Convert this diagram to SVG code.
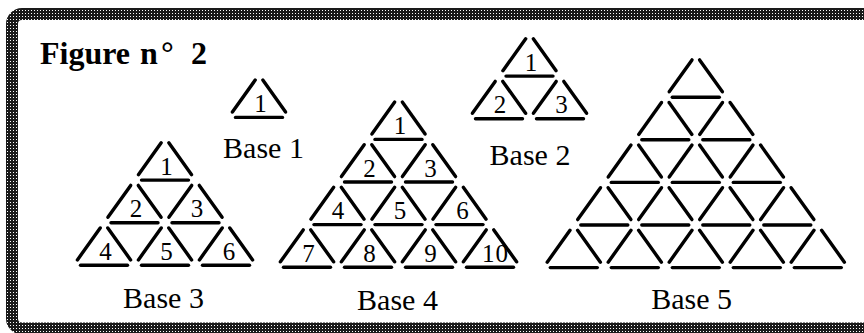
<svg xmlns="http://www.w3.org/2000/svg" xmlns:xlink="http://www.w3.org/1999/xlink" width="864" height="333" viewBox="0 0 864 333">
<style>
.stick{stroke:#000;stroke-width:3.4;stroke-linecap:round;fill:none}
.num{font-family:"Liberation Serif","Times New Roman",serif;font-size:25px;fill:#000;text-anchor:middle}
.lbl{font-family:"Liberation Serif","Times New Roman",serif;font-size:30px;fill:#000;text-anchor:middle}
.title{font-family:"Liberation Serif","Times New Roman",serif;font-size:32px;font-weight:bold;fill:#000}
</style>
<defs>
<pattern id="dots" width="3" height="3" patternUnits="userSpaceOnUse">
<rect width="3" height="3" fill="#1a1a1a"/>
<rect x="1" y="1" width="1" height="1" fill="#fff"/>
</pattern>
<g id="tri" class="stick">
<line x1="-3.8" y1="5.3" x2="-26.6" y2="37.2"/>
<line x1="3.8" y1="5.3" x2="26.6" y2="37.2"/>
<line x1="-23.5" y1="42.6" x2="23.5" y2="42.6"/>
</g>
</defs>
<rect x="0" y="0" width="864" height="333" fill="#fff"/>
<rect id="frame" x="12" y="14" width="870" height="314.5" rx="10" fill="#fff" stroke="url(#dots)" stroke-width="12"/>
<text id="title" class="title" y="63.5"><tspan x="40">Figure</tspan><tspan x="140">n</tspan><tspan x="161">°</tspan><tspan x="191">2</tspan></text>

<g id="base1">
<use href="#tri" x="259" y="74.8"/>
<text class="num" x="260.5" y="112">1</text>
<text class="lbl" x="263.5" y="158">Base 1</text>
</g>

<g id="base2">
<use href="#tri" x="529.5" y="33.5"/>
<use href="#tri" x="499" y="76.1"/>
<use href="#tri" x="560" y="76.1"/>
<text class="num" x="531" y="70.8">1</text>
<text class="num" x="500" y="113.4">2</text>
<text class="num" x="561.5" y="113.4">3</text>
<text class="lbl" x="530" y="165">Base 2</text>
</g>

<g id="base3">
<use href="#tri" x="165" y="137.5"/>
<use href="#tri" x="134.5" y="180.1"/>
<use href="#tri" x="195.5" y="180.1"/>
<use href="#tri" x="104" y="222.7"/>
<use href="#tri" x="165" y="222.7"/>
<use href="#tri" x="226" y="222.7"/>
<text class="num" x="166.5" y="174.8">1</text>
<text class="num" x="136" y="217.4">2</text>
<text class="num" x="197" y="217.4">3</text>
<text class="num" x="105.5" y="260">4</text>
<text class="num" x="166.5" y="260">5</text>
<text class="num" x="229" y="260">6</text>
<text class="lbl" x="163.5" y="308">Base 3</text>
</g>

<g id="base4">
<use href="#tri" x="398.5" y="96.8"/>
<use href="#tri" x="368" y="139.4"/>
<use href="#tri" x="429" y="139.4"/>
<use href="#tri" x="337.5" y="182"/>
<use href="#tri" x="398.5" y="182"/>
<use href="#tri" x="459.5" y="182"/>
<use href="#tri" x="307" y="224.6"/>
<use href="#tri" x="368" y="224.6"/>
<use href="#tri" x="429" y="224.6"/>
<use href="#tri" x="490" y="224.6"/>
<text class="num" x="400" y="134.1">1</text>
<text class="num" x="369.5" y="176.7">2</text>
<text class="num" x="430.5" y="176.7">3</text>
<text class="num" x="338" y="219.3">4</text>
<text class="num" x="400" y="219.3">5</text>
<text class="num" x="462.5" y="219.3">6</text>
<text class="num" x="308.5" y="261.9">7</text>
<text class="num" x="369.5" y="261.9">8</text>
<text class="num" x="430.5" y="261.9">9</text>
<text class="num" x="495.5" y="261.9" letter-spacing="1">10</text>
<text class="lbl" x="397.5" y="310">Base 4</text>
</g>

<g id="base5">
<use href="#tri" x="695.8" y="54.6"/>
<use href="#tri" x="665.3" y="97.2"/>
<use href="#tri" x="726.3" y="97.2"/>
<use href="#tri" x="634.8" y="139.8"/>
<use href="#tri" x="695.8" y="139.8"/>
<use href="#tri" x="756.8" y="139.8"/>
<use href="#tri" x="604.3" y="182.4"/>
<use href="#tri" x="665.3" y="182.4"/>
<use href="#tri" x="726.3" y="182.4"/>
<use href="#tri" x="787.3" y="182.4"/>
<use href="#tri" x="573.8" y="225"/>
<use href="#tri" x="634.8" y="225"/>
<use href="#tri" x="695.8" y="225"/>
<use href="#tri" x="756.8" y="225"/>
<use href="#tri" x="817.8" y="225"/>
<text class="lbl" x="691.7" y="309">Base 5</text>
</g>
<g id="connectors"/>
</svg>
